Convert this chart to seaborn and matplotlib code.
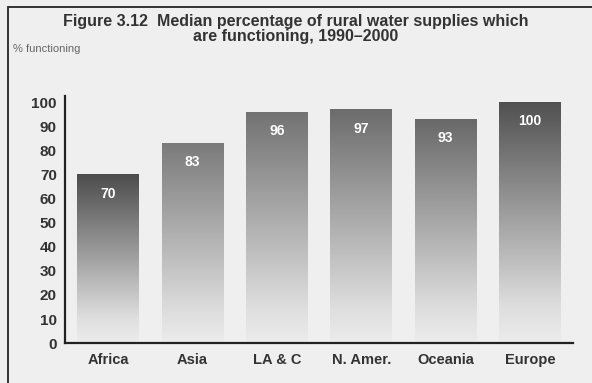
import matplotlib
matplotlib.use("Agg")
import matplotlib.pyplot as plt
import seaborn as sns
import numpy as np
import pandas as pd
from matplotlib.colors import LinearSegmentedColormap
from matplotlib.lines import Line2D

sns.set_theme(style="white")
plt.rcParams['font.family'] = ['Liberation Sans Narrow', 'Liberation Sans', 'DejaVu Sans']

# data
regions = ["Africa", "Asia", "LA & C", "N. Amer.", "Oceania", "Europe"]
functioning = [70, 83, 96, 97, 93, 100]
value_labels = ["70", "83", "96", "97", "93", "100"]
yticks = [0, 10, 20, 30, 40, 50, 60, 70, 80, 90, 100]

# shade at the top of each bar (bars fade to near white at the bottom)
top_shades = ["#4c4c4c", "#7a7a7a", "#727272", "#6c6c6c", "#686868", "#505050"]
bg = "#efefef"

df = pd.DataFrame({"region": regions, "pct": functioning})

fig = plt.figure(figsize=(5.92, 3.83), dpi=100, facecolor=bg)
ax = fig.add_axes([0.110, 0.104, 0.858, 0.645])
ax.set_facecolor(bg)

sns.barplot(data=df, x="region", y="pct", color="grey", width=0.73,
            ax=ax, saturation=1)

grad = np.linspace(0, 1, 256).reshape(-1, 1)
for patch, shade, lab in zip(ax.patches, top_shades, value_labels):
    x0, y0 = patch.get_x(), patch.get_y()
    w, h = patch.get_width(), patch.get_height()
    cmap = LinearSegmentedColormap.from_list(
        "fade", [(0.0, "#ececec"), (0.15, "#dedede"), (1.0, shade)])
    im = ax.imshow(grad, extent=[x0, x0 + w, y0, y0 + h], origin="lower",
                   aspect="auto", cmap=cmap, zorder=2)
    im.set_clip_path(patch)
    patch.set_facecolor("none")
    patch.set_edgecolor("none")
    ax.text(x0 + w / 2, y0 + h - 8, lab, ha="center", va="center",
            color="white", fontsize=10, fontweight="bold", zorder=3)

ax.set_xlim(-0.51, 5.51)
ax.set_ylim(0, 102.5)
ax.set_yticks(yticks)
ax.set_yticklabels([str(t) for t in yticks], fontsize=11, fontweight="bold",
                   color="#333333")
ax.tick_params(axis="both", length=0, pad=6)
ax.tick_params(axis="x", labelsize=10.5, labelcolor="#333333", pad=7)
for t in ax.get_xticklabels():
    t.set_fontweight("bold")
ax.set_xlabel("")
ax.set_ylabel("")
sns.despine(ax=ax)
for s in ["left", "bottom"]:
    ax.spines[s].set_color("#222222")
    ax.spines[s].set_linewidth(1.6)

fig.text(0.5, 0.945, "Figure 3.12  Median percentage of rural water supplies which",
         ha="center", va="center", fontsize=11.5, fontweight="bold", color="#333333")
fig.text(0.5, 0.906, "are functioning, 1990\u20132000",
         ha="center", va="center", fontsize=11.5, fontweight="bold", color="#333333")
fig.text(0.022, 0.873, "% functioning", ha="left", va="center",
         fontsize=8, color="#666666")

# frame lines (top and left)
fig.add_artist(Line2D([0.014, 1.0], [0.983, 0.983], color="#333333", lw=1.4,
                      transform=fig.transFigure))
fig.add_artist(Line2D([0.014, 0.014], [0.0, 0.983], color="#333333", lw=1.4,
                      transform=fig.transFigure))

fig.savefig("out.png", dpi=100, facecolor=bg)
